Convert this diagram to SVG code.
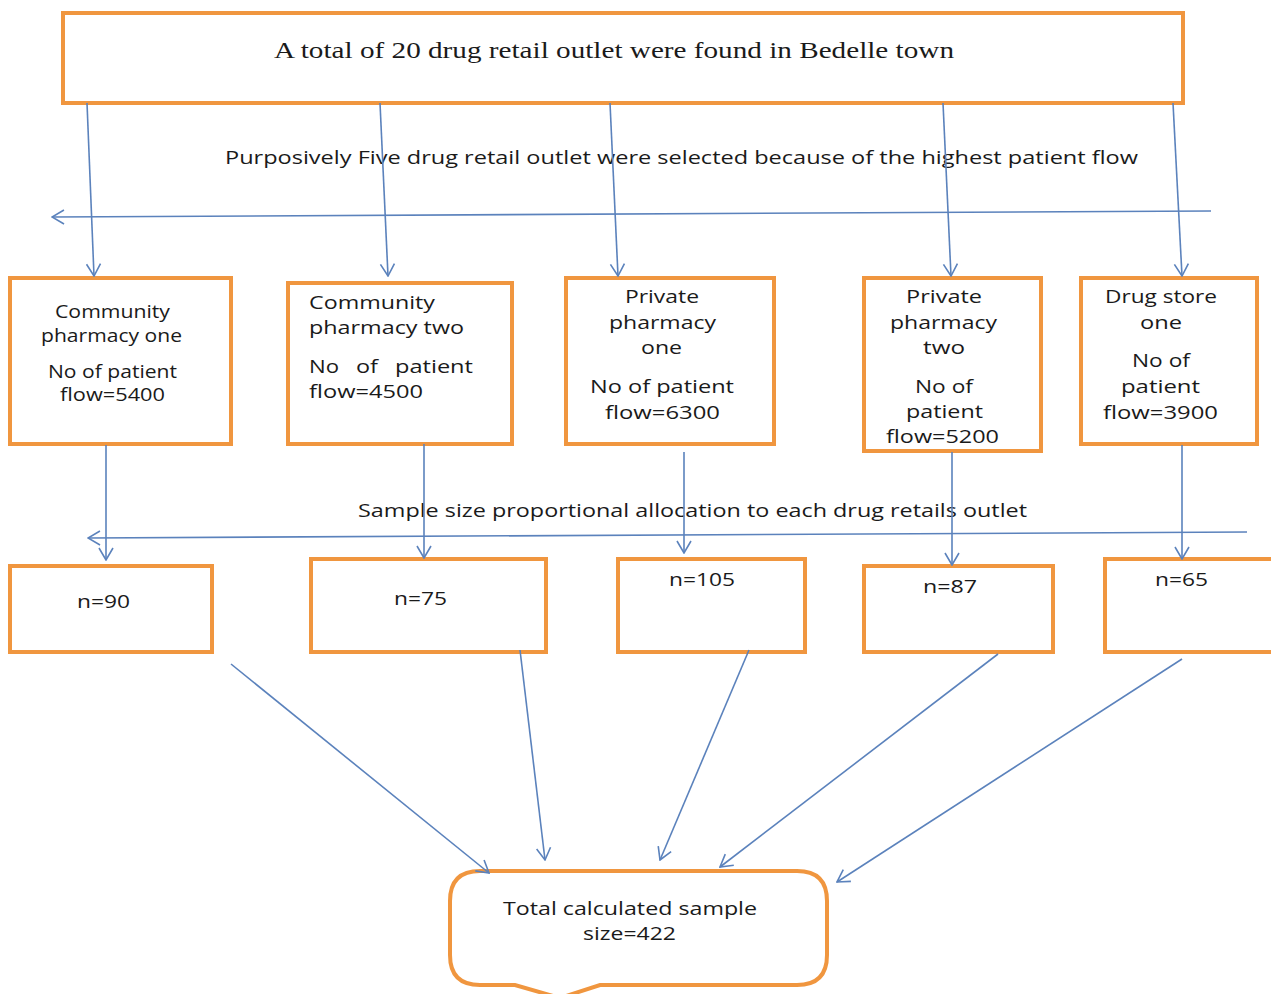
<svg xmlns="http://www.w3.org/2000/svg" width="1271" height="994" viewBox="0 0 1271 994">
<style>
.box{fill:#fff;stroke:#F0963F;stroke-width:4}
.cn{fill:none;stroke:#5B82BC;stroke-width:1.6}
.t{font-family:"Open Sans","Liberation Sans",sans-serif;font-size:18px;fill:#1a1a1a}
.s{font-family:"Liberation Serif","Times New Roman",serif;font-size:23px;fill:#1a1a1a}
</style>
<defs>
<marker id="ah" viewBox="0 0 14 16" refX="13" refY="8" markerWidth="14" markerHeight="16" markerUnits="userSpaceOnUse" orient="auto">
<path d="M1,1 L13,8 L1,15" fill="none" stroke="#5B82BC" stroke-width="1.6"/>
</marker>
</defs>
<rect width="1271" height="994" fill="#fff"/>

<g id="top">
<rect class="box" x="63" y="13" width="1120" height="90"/>
<text class="s" x="274" y="58" textLength="680" lengthAdjust="spacingAndGlyphs">A total of 20 drug retail outlet were found in Bedelle town</text>
</g>

<g id="labels">
<text class="t" x="225" y="164" textLength="913" lengthAdjust="spacingAndGlyphs">Purposively Five drug retail outlet were selected because of the highest patient flow</text>
<text class="t" x="358" y="517" textLength="669" lengthAdjust="spacingAndGlyphs">Sample size proportional allocation to each drug retails outlet</text>
</g>

<g id="b1">
<rect class="box" x="10" y="278" width="221" height="166"/>
<text class="t" x="55" y="318" textLength="115" lengthAdjust="spacingAndGlyphs">Community</text>
<text class="t" x="41" y="342" textLength="141" lengthAdjust="spacingAndGlyphs">pharmacy one</text>
<text class="t" x="48" y="378" textLength="129" lengthAdjust="spacingAndGlyphs">No of patient</text>
<text class="t" x="60" y="401" textLength="105" lengthAdjust="spacingAndGlyphs">flow=5400</text>
</g>
<g id="b2">
<rect class="box" x="288" y="283" width="224" height="161"/>
<text class="t" x="309" y="309" textLength="126" lengthAdjust="spacingAndGlyphs">Community</text>
<text class="t" x="309" y="334" textLength="155" lengthAdjust="spacingAndGlyphs">pharmacy two</text>
<text class="t" y="373"><tspan x="309" textLength="30" lengthAdjust="spacingAndGlyphs">No</tspan><tspan x="356" textLength="22" lengthAdjust="spacingAndGlyphs">of</tspan><tspan x="395" textLength="78" lengthAdjust="spacingAndGlyphs">patient</tspan></text>
<text class="t" x="309" y="398" textLength="114" lengthAdjust="spacingAndGlyphs">flow=4500</text>
</g>
<g id="b3">
<rect class="box" x="566" y="278" width="208" height="166"/>
<text class="t" x="625" y="303" textLength="74" lengthAdjust="spacingAndGlyphs">Private</text>
<text class="t" x="609" y="329" textLength="107" lengthAdjust="spacingAndGlyphs">pharmacy</text>
<text class="t" x="641" y="354" textLength="41" lengthAdjust="spacingAndGlyphs">one</text>
<text class="t" x="590" y="393" textLength="144" lengthAdjust="spacingAndGlyphs">No of patient</text>
<text class="t" x="605" y="419" textLength="115" lengthAdjust="spacingAndGlyphs">flow=6300</text>
</g>
<g id="b4">
<rect class="box" x="864" y="278" width="177" height="173"/>
<text class="t" x="906" y="303" textLength="76" lengthAdjust="spacingAndGlyphs">Private</text>
<text class="t" x="890" y="329" textLength="107" lengthAdjust="spacingAndGlyphs">pharmacy</text>
<text class="t" x="923" y="354" textLength="42" lengthAdjust="spacingAndGlyphs">two</text>
<text class="t" x="915" y="393" textLength="58" lengthAdjust="spacingAndGlyphs">No of</text>
<text class="t" x="906" y="418" textLength="77" lengthAdjust="spacingAndGlyphs">patient</text>
<text class="t" x="886" y="443" textLength="113" lengthAdjust="spacingAndGlyphs">flow=5200</text>
</g>
<g id="b5">
<rect class="box" x="1081" y="278" width="176" height="166"/>
<text class="t" x="1105" y="303" textLength="112" lengthAdjust="spacingAndGlyphs">Drug store</text>
<text class="t" x="1140" y="329" textLength="42" lengthAdjust="spacingAndGlyphs">one</text>
<text class="t" x="1132" y="367" textLength="58" lengthAdjust="spacingAndGlyphs">No of</text>
<text class="t" x="1121" y="393" textLength="79" lengthAdjust="spacingAndGlyphs">patient</text>
<text class="t" x="1103" y="419" textLength="115" lengthAdjust="spacingAndGlyphs">flow=3900</text>
</g>

<g id="n1"><rect class="box" x="10" y="566" width="202" height="86"/><text class="t" x="77" y="608" textLength="53" lengthAdjust="spacingAndGlyphs">n=90</text></g>
<g id="n2"><rect class="box" x="311" y="559" width="235" height="93"/><text class="t" x="394" y="605" textLength="53" lengthAdjust="spacingAndGlyphs">n=75</text></g>
<g id="n3"><rect class="box" x="618" y="559" width="187" height="93"/><text class="t" x="669" y="586" textLength="66" lengthAdjust="spacingAndGlyphs">n=105</text></g>
<g id="n4"><rect class="box" x="864" y="566" width="189" height="86"/><text class="t" x="923" y="593" textLength="54" lengthAdjust="spacingAndGlyphs">n=87</text></g>
<g id="n5"><rect class="box" x="1105" y="559" width="170" height="93"/><text class="t" x="1155" y="586" textLength="53" lengthAdjust="spacingAndGlyphs">n=65</text></g>

<g id="total">
<path class="box" d="M480,871 H797 Q827,871 827,901 V955 Q827,985 797,985 H600 L560,998 L515,985 H480 Q450,985 450,955 V901 Q450,871 480,871 Z"/>
<text class="t" x="503" y="915" textLength="254" lengthAdjust="spacingAndGlyphs">Total calculated sample</text>
<text class="t" x="583" y="940" textLength="93" lengthAdjust="spacingAndGlyphs">size=422</text>
</g>

<g id="connectors">
<line class="cn" x1="87" y1="103" x2="94" y2="276" marker-end="url(#ah)"/>
<line class="cn" x1="380" y1="103" x2="388" y2="276" marker-end="url(#ah)"/>
<line class="cn" x1="610" y1="103" x2="618" y2="276" marker-end="url(#ah)"/>
<line class="cn" x1="943" y1="103" x2="951" y2="276" marker-end="url(#ah)"/>
<line class="cn" x1="1173" y1="103" x2="1182" y2="276" marker-end="url(#ah)"/>
<line class="cn" x1="1211" y1="211" x2="52" y2="217" marker-end="url(#ah)"/>
<line class="cn" x1="106" y1="445" x2="106" y2="560" marker-end="url(#ah)"/>
<line class="cn" x1="424" y1="444" x2="424" y2="558" marker-end="url(#ah)"/>
<line class="cn" x1="684" y1="452" x2="684" y2="553" marker-end="url(#ah)"/>
<line class="cn" x1="952" y1="452" x2="952" y2="565" marker-end="url(#ah)"/>
<line class="cn" x1="1182" y1="445" x2="1182" y2="559" marker-end="url(#ah)"/>
<line class="cn" x1="1247" y1="532" x2="88" y2="538" marker-end="url(#ah)"/>
<line class="cn" x1="231" y1="664" x2="489" y2="873" marker-end="url(#ah)"/>
<line class="cn" x1="520" y1="650" x2="545" y2="860" marker-end="url(#ah)"/>
<line class="cn" x1="749" y1="650" x2="660" y2="860" marker-end="url(#ah)"/>
<line class="cn" x1="998" y1="654" x2="720" y2="867" marker-end="url(#ah)"/>
<line class="cn" x1="1182" y1="659" x2="837" y2="882" marker-end="url(#ah)"/>
</g>
</svg>
